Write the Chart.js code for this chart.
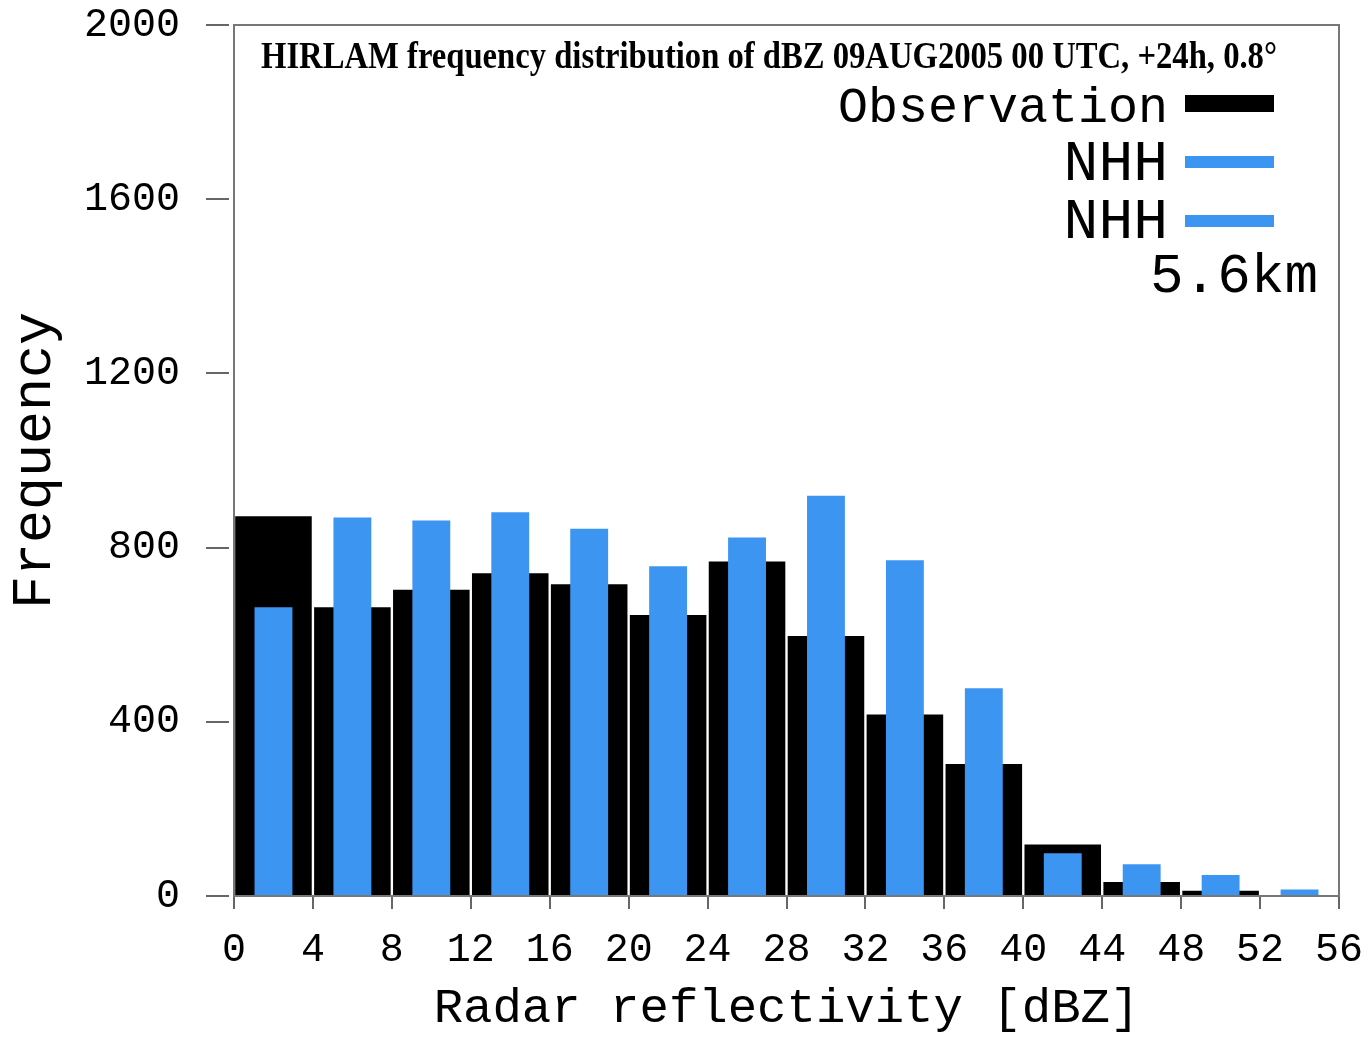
<!DOCTYPE html>
<html>
<head>
<meta charset="utf-8">
<script src="https://cdn.jsdelivr.net/npm/chart.js@4/dist/chart.umd.min.js"></script>
<style>
  html, body { margin: 0; padding: 0; background: #fff; }
</style>
</head>
<body>
<canvas id="dbz-hist" width="1368" height="1046"></canvas>
<script>
// bin centres of the 4 dBZ classes
const binCenters = [2, 6, 10, 14, 18, 22, 26, 30, 34, 38, 42, 46, 50, 54]
const observation = [872, 663, 703, 741, 716, 645, 768, 597, 417, 303, 118, 32, 12, 0]
const nhh = [663, 869, 862, 881, 843, 757, 823, 919, 771, 477, 98, 73, 48, 15]
const yTicks = [0, 400, 800, 1200, 1600, 2000]
const xTicks = [0, 4, 8, 12, 16, 20, 24, 28, 32, 36, 40, 44, 48, 52, 56]

const titleText = 'HIRLAM frequency distribution of dBZ 09AUG2005 00 UTC, +24h, 0.8°'
const legendItems = [
  { label: 'Observation', color: '#000000' },
  { label: 'NHH', color: '#3d95f2' },
  { label: 'NHH', color: '#3d95f2' },
]
const legendNote = '5.6km'

const MONO = '"Liberation Mono", "Courier New", monospace'
Chart.defaults.font.family = MONO
Chart.defaults.color = '#000'

// frame, title and the hand-made legend in the upper right corner
const decorations = {
  id: 'decorations',
  afterDraw(chart) {
    const { ctx, chartArea: a } = chart
    ctx.save()
    ctx.strokeStyle = '#777'
    ctx.lineWidth = 2
    ctx.strokeRect(a.left, a.top, a.right - a.left, a.bottom - a.top)

    // condensed bold title
    ctx.font = 'bold 37px "Liberation Serif", serif'
    ctx.fillStyle = '#000'
    ctx.textBaseline = 'alphabetic'
    const w = ctx.measureText(titleText).width
    const target = 1016
    ctx.save()
    ctx.translate(a.left + 27, 68)
    ctx.scale(target / w, 1)
    ctx.fillText(titleText, 0, 0)
    ctx.restore()

    // legend
    const textRight = 1168
    const swLeft = 1185, swW = 89
    const rows = [
      { y: 122, size: 50, sw: [95, 17] },
      { y: 180, size: 58, sw: [156, 12] },
      { y: 238, size: 58, sw: [215, 12] },
    ]
    ctx.textAlign = 'right'
    legendItems.forEach((it, i) => {
      const r = rows[i]
      ctx.font = r.size + 'px ' + MONO
      ctx.fillStyle = '#000'
      ctx.fillText(it.label, textRight, r.y)
      ctx.fillStyle = it.color
      ctx.fillRect(swLeft, r.sw[0], swW, r.sw[1])
    })
    ctx.fillStyle = '#000'
    ctx.font = '56px ' + MONO
    ctx.fillText(legendNote, 1318, 292)
    ctx.restore()
  },
}

new Chart(document.getElementById('dbz-hist'), {
  type: 'bar',
  data: {
    datasets: [
      {
        label: 'NHH',
        data: binCenters.map((x, i) => ({ x, y: nhh[i] })),
        backgroundColor: '#3d95f2',
        grouped: false,
        categoryPercentage: 1,
        barPercentage: 0.48,
        order: 0,
      },
      {
        label: 'Observation',
        data: binCenters.map((x, i) => ({ x, y: observation[i] })),
        backgroundColor: '#000000',
        grouped: false,
        categoryPercentage: 1,
        barPercentage: 0.97,
        order: 1,
      },
    ],
  },
  options: {
    responsive: false,
    animation: false,
    layout: { padding: { top: 25, right: 29, left: 0, bottom: 0 } },
    plugins: {
      legend: { display: false },
      tooltip: { enabled: false },
    },
    scales: {
      x: {
        type: 'linear',
        min: 0,
        max: 56,
        offset: false,
        afterFit: s => {
          s.height = 150
          s.paddingLeft = 0
          s.paddingRight = 0
        },
        afterBuildTicks: s => { s.ticks = xTicks.map(v => ({ value: v })) },
        grid: {
          offset: false,
          drawOnChartArea: false,
          color: '#666',
          lineWidth: 2,
          tickLength: 13,
        },
        border: { display: false },
        ticks: {
          font: { size: 40 },
          padding: 17,
          maxRotation: 0,
          autoSkip: false,
          callback: v => String(v),
        },
        title: {
          display: true,
          text: 'Radar reflectivity [dBZ]',
          font: { size: 49 },
          padding: { top: 0, bottom: 8 },
        },
      },
      y: {
        min: 0,
        max: 2000,
        afterFit: s => {
          s.width = 234
          s.paddingTop = 0
          s.paddingBottom = 0
        },
        afterBuildTicks: s => { s.ticks = yTicks.map(v => ({ value: v })) },
        grid: {
          drawOnChartArea: false,
          color: '#666',
          lineWidth: 2,
          tickLength: 28,
          tickBorderDash: [23, 10],
        },
        border: { display: false },
        ticks: {
          font: { size: 40 },
          padding: 26,
          callback: v => String(v),
        },
        title: {
          display: true,
          text: 'Frequency',
          font: { size: 55 },
          padding: { top: 2, bottom: 0 },
        },
      },
    },
  },
  plugins: [decorations],
})
</script>
</body>
</html>
